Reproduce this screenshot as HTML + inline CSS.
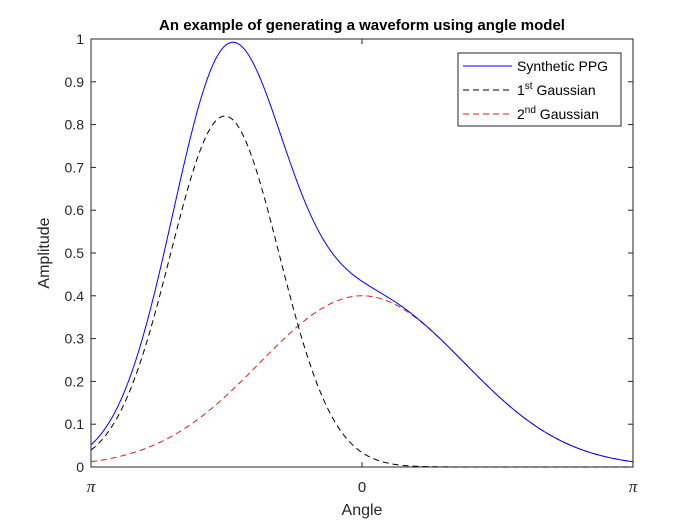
<!DOCTYPE html>
<html><head><meta charset="utf-8"><style>
body{margin:0;background:#fff;}
svg{display:block;font-family:"Liberation Sans",sans-serif;}
</style></head><body>
<svg id="chart" width="700" height="525" viewBox="0 0 700 525" xmlns="http://www.w3.org/2000/svg">
<rect width="700" height="525" fill="#fff"/>
<g id="plot"></g>
</svg>
<script>
const gaussAmp = [0.82, 0.40];
const gaussCenter = [-1.59, 0.0];
const gaussWidth = [0.63, 1.19];
const yTicks = [0,0.1,0.2,0.3,0.4,0.5,0.6,0.7,0.8,0.9,1];
const yTickLabels = ["0","0.1","0.2","0.3","0.4","0.5","0.6","0.7","0.8","0.9","1"];
const xTicks = [-Math.PI, 0, Math.PI];
const xTickLabels = ["\u03C0","0","\u03C0"];

const L=91,R=633,T=39,B=467;
const sx=v=>L+(v+Math.PI)/(2*Math.PI)*(R-L);
const sy=v=>B-v*(B-T);
const NS="http://www.w3.org/2000/svg";
const g=document.getElementById('plot');
function mk(tag,attrs,parent){const e=document.createElementNS(NS,tag);for(const k in attrs)e.setAttribute(k,attrs[k]);(parent||g).appendChild(e);return e;}

let box=mk('rect',{x:L,y:T,width:R-L,height:B-T,fill:'#fff',stroke:'#262626','stroke-width':1});



yTicks.forEach((v,i)=>{
  const y=sy(v);
  mk('line',{x1:L,x2:L+5,y1:y,y2:y,stroke:'#262626'});
  mk('line',{x1:R,x2:R-5,y1:y,y2:y,stroke:'#262626'});
  const t=mk('text',{x:L-7,y:y+5,'text-anchor':'end','font-size':14,fill:'#262626'});
  t.textContent=yTickLabels[i];
  
  
});
xTicks.forEach((v,i)=>{
  const x=sx(v);
  mk('line',{x1:x,x2:x,y1:B,y2:B-5,stroke:'#262626'});
  mk('line',{x1:x,x2:x,y1:T,y2:T+5,stroke:'#262626'});
  const t=mk('text',{x:x,y:B+25,'text-anchor':'middle','font-size':15,fill:'#262626'});
  if(xTickLabels[i]==="\u03C0"){t.setAttribute('font-family','"Liberation Serif",serif');t.setAttribute('font-style','italic');t.setAttribute('font-size',17);}
  t.textContent=xTickLabels[i];
  
  
});

function gauss(k,x){const d=x-gaussCenter[k];return gaussAmp[k]*Math.exp(-d*d/(2*gaussWidth[k]*gaussWidth[k]));}
function path(fn){let d='';const N=400;for(let i=0;i<=N;i++){const x=-Math.PI+2*Math.PI*i/N;d+=(i?'L':'M')+sx(x).toFixed(2)+','+sy(fn(x)).toFixed(2);}return d;}

let p2=mk('path',{d:path(x=>gauss(1,x)),fill:'none',stroke:'#e0201b','stroke-width':1,'stroke-dasharray':'6,4'});


let p1=mk('path',{d:path(x=>gauss(0,x)),fill:'none',stroke:'#000','stroke-width':1,'stroke-dasharray':'6,4'});


let p0=mk('path',{d:path(x=>gauss(0,x)+gauss(1,x)),fill:'none',stroke:'#0000ff','stroke-width':1});



let tt=mk('text',{x:362,y:30,'text-anchor':'middle','font-size':15,'font-weight':'bold',fill:'#000'});
tt.textContent='An example of generating a waveform using angle model';


let xl=mk('text',{x:362,y:515,'text-anchor':'middle','font-size':16,fill:'#262626'});
xl.textContent='Angle';


let yl=mk('text',{x:0,y:0,'text-anchor':'middle','font-size':16,fill:'#262626',transform:'translate(49,253) rotate(-90)'});
yl.textContent='Amplitude';



const lg=mk('g',{});


mk('rect',{x:458,y:53,width:163,height:73,fill:'#fff',stroke:'#262626'},lg);
const items=[['Synthetic PPG','#0000ff',null,''],['1','#000','6,4','st'],['2','#e0201b','6,4','nd']];
items.forEach((it,i)=>{
  const y=66+i*24;
  const ln=mk('line',{x1:463,x2:512,y1:y,y2:y,stroke:it[1],'stroke-dasharray':it[2]||'none'},lg);
  
  
  const t=mk('text',{x:517,y:y+5,'font-size':14,fill:'#000'},lg);
  
  
  if(it[3]){
    t.appendChild(document.createTextNode(it[0]));
    const s=mk('tspan',{'font-size':10,dy:-6},t);s.textContent=it[3];
    const r=mk('tspan',{dy:6},t);r.textContent=' Gaussian';
  } else t.textContent=it[0];
});
</script>
</body></html>
